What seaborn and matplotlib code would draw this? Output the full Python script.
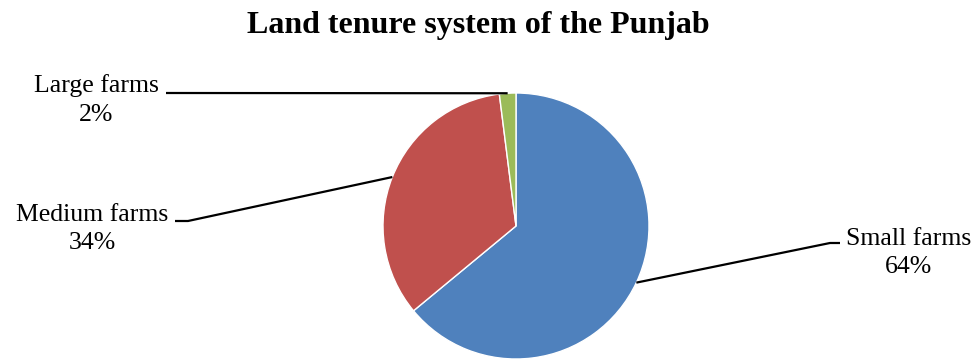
import numpy as np
import matplotlib
matplotlib.use("Agg")
import matplotlib.pyplot as plt
import seaborn as sns

# Farm size categories and their share of holdings (%)
categories = ["Small farms", "Medium farms", "Large farms"]
shares = [64, 34, 2]
colors = ["#4F81BD", "#C0504D", "#9BBB59"]
title = "Land tenure system of the Punjab"

sns.set_theme(style="white")
plt.rcParams["font.family"] = ["Liberation Serif", "DejaVu Serif"]

W, H = 977, 360
fig = plt.figure(figsize=(W / 100, H / 100), dpi=100)
ax = fig.add_axes([0, 0, 1, 1])

center = (516, H - 226)
radius = 133
wedges, _ = ax.pie(shares, colors=colors, startangle=90, counterclock=False,
                   center=center, radius=radius, frame=True,
                   wedgeprops=dict(edgecolor="white", linewidth=1.0))
ax.set_xlim(0, W)
ax.set_ylim(0, H)
ax.set_aspect("equal")
ax.axis("off")

# label text centres and elbow points of the leader lines (pixel layout)
label_pos = [(909, H - 253), (92, H - 229), (96, H - 100)]
elbows = [[(830, H - 243), (840, H - 243)],
          [(188, H - 221), (175, H - 221)],
          [(166, H - 93)]]

for w, cat, val, (tx, ty), elb in zip(wedges, categories, shares, label_pos, elbows):
    ang = np.deg2rad((w.theta1 + w.theta2) / 2)
    px = center[0] + radius * np.cos(ang)
    py = center[1] + radius * np.sin(ang)
    xs = [px] + [e[0] for e in elb]
    ys = [py] + [e[1] for e in elb]
    ax.plot(xs, ys, color="black", lw=1.6, solid_capstyle="butt", zorder=1)
    ax.text(tx, ty, f"{cat}\n{val}%", ha="center", va="center",
            multialignment="center", fontsize=18.5, color="black",
            linespacing=1.38)

fig.text(478 / W, 1 - 25 / H, title, ha="center", va="center",
         fontsize=23, fontweight="bold", color="black")

fig.savefig("out.png", dpi=100, facecolor="white")
